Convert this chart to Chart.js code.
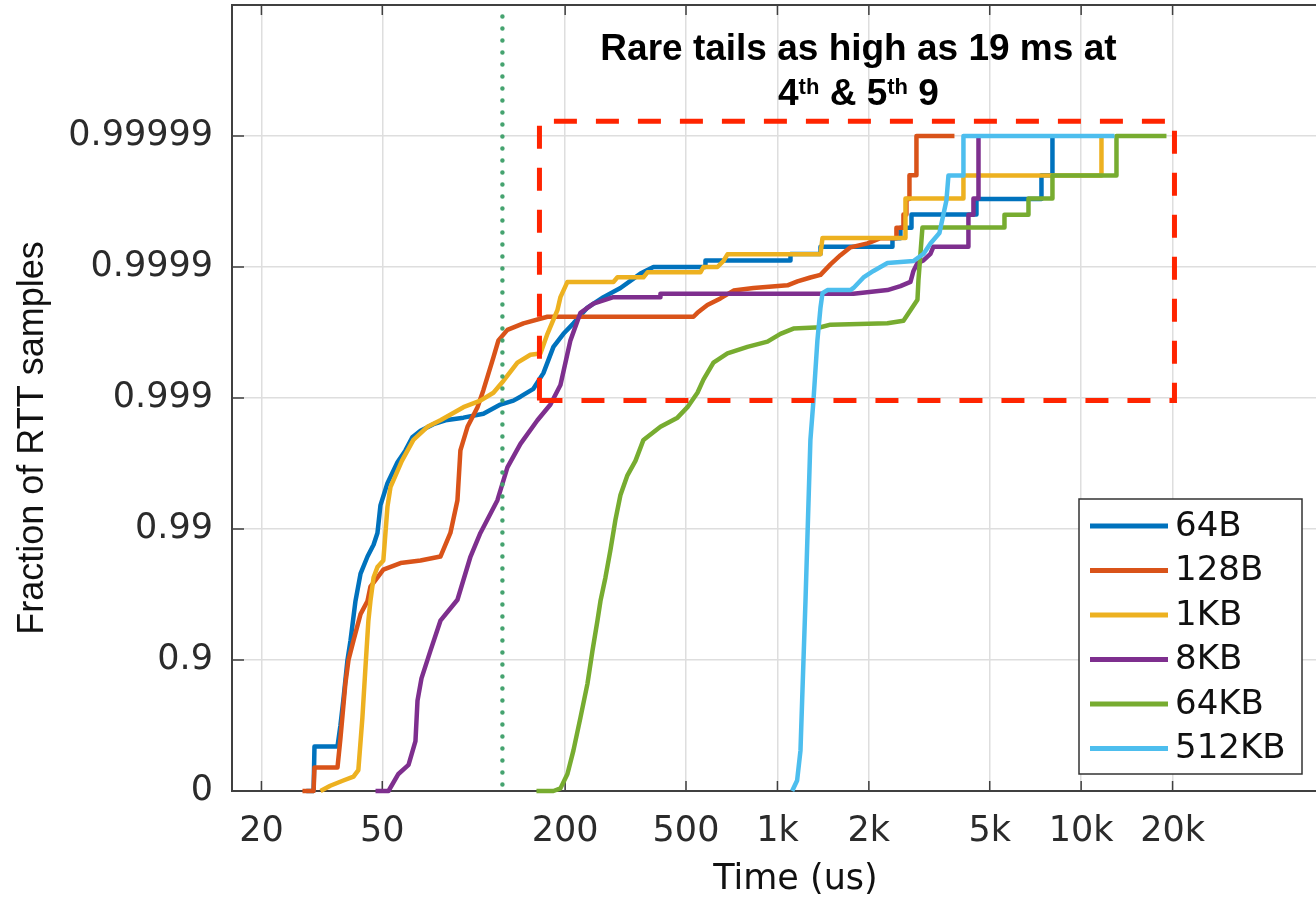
<!DOCTYPE html>
<html>
<head>
<meta charset="utf-8">
<script src="https://cdn.jsdelivr.net/npm/chart.js@4.4.1/dist/chart.umd.min.js"></script>
<style>
html,body{margin:0;padding:0;background:#fff;overflow:hidden}
#wrap{width:1316px;height:901px;overflow:hidden}
canvas{display:block}
</style>
</head>
<body>
<div id="wrap"><canvas id="chart" width="1359" height="901"></canvas></div>
<script>
// RTT CDF per message size. x = time (us), y = "nines" = -log10(1 - F)
const sizes = ['64B','128B','1KB','8KB','64KB','512KB'];

const s64B = [[28.1,0],[29.7,0],[29.9,0.34],[35.6,0.34],[36.4,0.50],[37.2,0.69],[38.4,1.0],[39.3,1.15],[40.8,1.45],[42.4,1.66],
  [44.7,1.79],[46.8,1.88],[48.2,1.97],[49.3,2.18],[52.0,2.35],[56.1,2.51],[59.6,2.60],[62.8,2.70],[66.8,2.75],[73.7,2.80],
  [80.7,2.83],[92.5,2.85],[107.6,2.88],[122.4,2.95],[135.1,2.98],[142.5,3.01],[157.2,3.07],[169.6,3.19],[183.0,3.39],[197.4,3.49],
  [213.0,3.57],[236.9,3.69],[267.4,3.77],[304.2,3.84],[354.0,3.95],[390.6,4.0],[579.5,4.0],[579.5,4.05],[1104,4.05],[1104,4.10],
  [1386,4.10],[1386,4.155],[2392,4.155],[2392,4.22],[2541,4.22],[2541,4.30],[2763,4.30],[2763,4.40],[4522,4.40],[4522,4.52],
  [7402,4.52],[7402,4.70],[8045,4.70],[8045,5]];

const s128B = [[27.3,0],[29.7,0],[29.9,0.18],[35.6,0.18],[36.4,0.40],[37.8,0.82],[38.7,1.0],[40.2,1.15],[42.4,1.35],[44.7,1.45],
  [45.7,1.56],[46.8,1.59],[50.4,1.69],[57.4,1.74],[66.8,1.76],[77.7,1.79],[83.8,1.97],[88.4,2.22],[90.4,2.60],[95.4,2.78],
  [102.9,2.93],[107.6,3.06],[116.1,3.31],[120.6,3.44],[129.1,3.52],[145.8,3.57],[174.9,3.62],[529,3.62],[545,3.65],[588,3.71],
  [649,3.76],[717,3.82],[834,3.84],[1079,3.86],[1164,3.89],[1284,3.92],[1386,3.94],[1495,4.02],[1613,4.09],[1740,4.15],
  [1979,4.18],[2184,4.22],[2465,4.22],[2465,4.30],[2600,4.30],[2600,4.40],[2660,4.40],[2660,4.52],[2721,4.52],[2721,4.70],
  [2869,4.70],[2869,5],[3827,5]];

const s1KB = [[31.3,0],[33.7,0.04],[37.2,0.08],[40.2,0.11],[41.7,0.16],[43.0,0.56],[44.0,0.94],[45.0,1.30],[45.7,1.45],[46.8,1.63],
  [48.2,1.71],[50.4,1.76],[52.0,2.17],[53.2,2.32],[58.0,2.52],[63.3,2.68],[70.4,2.78],[77.7,2.83],[92.5,2.93],[105.2,2.98],
  [116.1,3.04],[125.2,3.13],[139.3,3.27],[153.7,3.33],[165.8,3.34],[174.9,3.49],[188.6,3.67],[193,3.77],[203.5,3.886],[288.4,3.886],
  [297.3,3.921],[362.1,3.921],[373.3,3.959],[557.9,3.959],[570.7,4.0],[634.6,4.0],[664.1,4.046],[684.6,4.097],[1386,4.097],[1407,4.222],
  [2640,4.222],[2640,4.523],[4097,4.523],[4097,4.699],[11666,4.699],[11666,5]];

const s8KB = [[47.5,0],[52.4,0],[56.5,0.13],[61.0,0.20],[64.3,0.38],[65.3,0.69],[67.3,0.86],[72.0,1.07],[77.7,1.30],[88.4,1.46],
  [97.6,1.79],[105.2,1.97],[119.7,2.22],[129.1,2.47],[142.5,2.65],[162.1,2.83],[178.9,2.95],[193,3.10],[208.2,3.44],[224.6,3.65],
  [247.9,3.72],[288.4,3.77],[411.9,3.77],[411.9,3.796],[1780,3.796],[2303,3.824],[2541,3.854],[2742,3.886],[2805,3.97],[2891,4.03],
  [3025,4.05],[3190,4.10],[3264,4.155],[4255,4.155],[4255,4.398],[4420,4.398],[4420,4.523],[4592,4.523],[4592,5]];

const s64KB = [[160.9,0],[183.0,0],[193,0.02],[203.5,0.13],[213.0,0.31],[224.6,0.56],[236.9,0.82],[246.0,1.07],[255.5,1.30],[261.4,1.45],
  [271.5,1.63],[282.0,1.84],[292.8,2.07],[304.2,2.26],[320.7,2.41],[340.8,2.52],[362.1,2.68],[411.9,2.78],[468.7,2.85],[505.5,2.93],
  [545.3,3.04],[570.7,3.14],[615.6,3.27],[684.6,3.34],[796.8,3.39],[927.3,3.43],[1023,3.49],[1129,3.53],[1386,3.54],[1495,3.56],
  [2303,3.57],[2600,3.59],[2742,3.67],[2891,3.75],[2913,3.90],[2957,4.10],[3002,4.301],[5592,4.301],[5592,4.398],[6708,4.398],
  [6708,4.523],[8045,4.523],[8045,4.699],[13072,4.699],[13072,5],[19096,5]];

const s512KB = [[1118,0],[1161,0.08],[1191,0.31],[1206,0.69],[1218,0.99],[1237,1.45],[1284,2.68],[1314,2.98],[1354,3.44],[1386,3.69],
  [1407,3.80],[1461,3.824],[1740,3.824],[1780,3.84],[1920,3.92],[2071,3.97],[2303,4.03],[2805,4.046],[3025,4.10],[3190,4.18],
  [3415,4.26],[3602,4.51],[3657,4.699],[4097,4.699],[4097,5],[12875,5]];

const series = [s64B, s128B, s1KB, s8KB, s64KB, s512KB];

// axis ticks
const xTicks = [20, 50, 200, 500, 1000, 2000, 5000, 10000, 20000];
const xTickLabels = ['20','50','200','500','1k','2k','5k','10k','20k'];
const yTicks = [0, 1, 2, 3, 4, 5];
const yTickLabels = ['0','0.9','0.99','0.999','0.9999','0.99999'];

// annotations: highlighted tail box and 125us marker
const boxX = [164.6, 20290];
const boxY = [2.98, 5.113];
const markerX = 124.3;
const markerY = [0.05, 5.92];
const noteLine1 = 'Rare tails as high as 19 ms at';
const noteX = 1848;

const colors = ['#0072BD','#D95319','#EDB120','#7E2F8E','#77AC30','#4DBEEE'];

const datasets = [];
datasets.push({
  label: 'box',
  data: [{x:boxX[0],y:boxY[0]},{x:boxX[1],y:boxY[0]},{x:boxX[1],y:boxY[1]},{x:boxX[0],y:boxY[1]},{x:boxX[0],y:boxY[0]}],
  borderColor: '#ff2400', borderWidth: 5, borderDash: [23,19], pointRadius: 0, order: 0, clip: false
});
datasets.push({
  label: 'marker',
  data: [{x:markerX,y:markerY[0]},{x:markerX,y:markerY[1]}],
  borderColor: '#45a36f', borderWidth: 4.5, borderDash: [0,12], borderCapStyle: 'round', pointRadius: 0, order: 1, clip: false
});
series.forEach((s,i)=>{
  datasets.push({
    label: sizes[i],
    data: s.map(p=>({x:p[0], y:p[1]})),
    borderColor: colors[i], borderWidth: 4.5, borderJoinStyle: 'round',
    pointRadius: 0, tension: 0, order: 7 - i, clip: false
  });
});

const decor = {
  id: 'decor',
  beforeDatasetsDraw(chart){
    const {ctx, chartArea:a, scales:{x, y}} = chart;
    ctx.save();
    ctx.strokeStyle = '#404040';
    ctx.lineWidth = 2;
    ctx.beginPath();
    ctx.moveTo(a.left, a.top); ctx.lineTo(a.right, a.top);
    ctx.stroke();
    ctx.lineWidth = 1.5;
    ctx.beginPath();
    xTicks.forEach(v=>{
      const px = x.getPixelForValue(v);
      ctx.moveTo(px, a.bottom); ctx.lineTo(px, a.bottom - 10);
      ctx.moveTo(px, a.top); ctx.lineTo(px, a.top + 10);
    });
    yTicks.forEach(v=>{
      const py = y.getPixelForValue(v);
      ctx.moveTo(a.left, py); ctx.lineTo(a.left + 12, py);
    });
    ctx.stroke();
    ctx.restore();
  },
  afterDatasetsDraw(chart){
    const {ctx, chartArea:a, scales:{x, y}} = chart;
    ctx.save();

    // legend box (lower right)
    const lg = {left:1079, top:499, w:223, h:275, row0:526, step:44.5};
    ctx.fillStyle = '#fff';
    ctx.fillRect(lg.left, lg.top, lg.w, lg.h);
    ctx.strokeStyle = '#333';
    ctx.lineWidth = 1.5;
    ctx.strokeRect(lg.left, lg.top, lg.w, lg.h);
    ctx.font = '34px "DejaVu Sans"';
    ctx.textBaseline = 'middle';
    ctx.textAlign = 'left';
    sizes.forEach((s,i)=>{
      const yy = lg.row0 + i*lg.step;
      ctx.strokeStyle = colors[i];
      ctx.lineWidth = 5;
      ctx.beginPath();
      ctx.moveTo(lg.left + 11, yy); ctx.lineTo(lg.left + 89, yy);
      ctx.stroke();
      ctx.fillStyle = '#111';
      ctx.fillText(s, lg.left + 96, yy + 1);
    });

    // annotation text
    const cx = x.getPixelForValue(noteX);
    ctx.fillStyle = '#000';
    ctx.textBaseline = 'alphabetic';
    ctx.textAlign = 'left';
    const big = 'bold 37px "Liberation Sans"', sup = 'bold 22px "Liberation Sans"';
    ctx.font = big;
    const w1 = ctx.measureText(noteLine1).width;
    ctx.fillText(noteLine1, cx - w1/2, 60);
    const runs = [['4',big,0],['th',sup,-11],[' & 5',big,0],['th',sup,-11],[' 9',big,0]];
    let tot = 0;
    runs.forEach(r=>{ ctx.font = r[1]; tot += ctx.measureText(r[0]).width; });
    let xx = cx - tot/2;
    runs.forEach(r=>{ ctx.font = r[1]; ctx.fillText(r[0], xx, 105 + r[2]); xx += ctx.measureText(r[0]).width; });

    // y axis title
    ctx.font = '36px "Liberation Sans"';
    ctx.fillStyle = '#111';
    ctx.textAlign = 'center';
    ctx.translate(43, (a.top + a.bottom)/2 + 40);
    ctx.rotate(-Math.PI/2);
    ctx.fillText('Fraction of RTT samples', 0, 0);
    ctx.restore();
  }
};

Chart.defaults.font.family = '"DejaVu Sans"';

new Chart(document.getElementById('chart'), {
  type: 'line',
  data: { datasets },
  options: {
    responsive: false,
    animation: false,
    devicePixelRatio: 1,
    layout: { padding: {top:5, left:0, right:0, bottom:0} },
    plugins: { legend: {display:false}, tooltip: {enabled:false} },
    scales: {
      x: {
        type: 'logarithmic',
        min: 16, max: 82200,
        afterBuildTicks: s => { s.ticks = xTicks.map(v=>({value:v})); },
        afterFit: s => { s.height = 110; s.paddingLeft = 0; s.paddingRight = 0; },
        ticks: {
          autoSkip: false, maxRotation: 0, padding: 20, color: '#2b2b2b',
          font: {size: 35},
          callback: v => xTickLabels[xTicks.indexOf(v)]
        },
        grid: { color: '#dedede', lineWidth: 1.5, drawTicks: false },
        border: { display: true, color: '#404040', width: 2 },
        title: { display: true, text: 'Time (us)', color: '#111', font: {size: 35}, padding: {top:0, bottom:0} }
      },
      y: {
        type: 'linear',
        min: 0, max: 6,
        afterBuildTicks: s => { s.ticks = yTicks.map(v=>({value:v})); },
        afterFit: s => { s.width = 232; s.paddingTop = 0; s.paddingBottom = 0; },
        ticks: {
          padding: 19, color: '#2b2b2b',
          font: {size: 35},
          callback: (v) => yTickLabels[yTicks.indexOf(v)]
        },
        grid: { color: '#dedede', lineWidth: 1.5, drawTicks: false },
        border: { display: true, color: '#404040', width: 2 }
      }
    }
  },
  plugins: [decor]
});
</script>
</body>
</html>
